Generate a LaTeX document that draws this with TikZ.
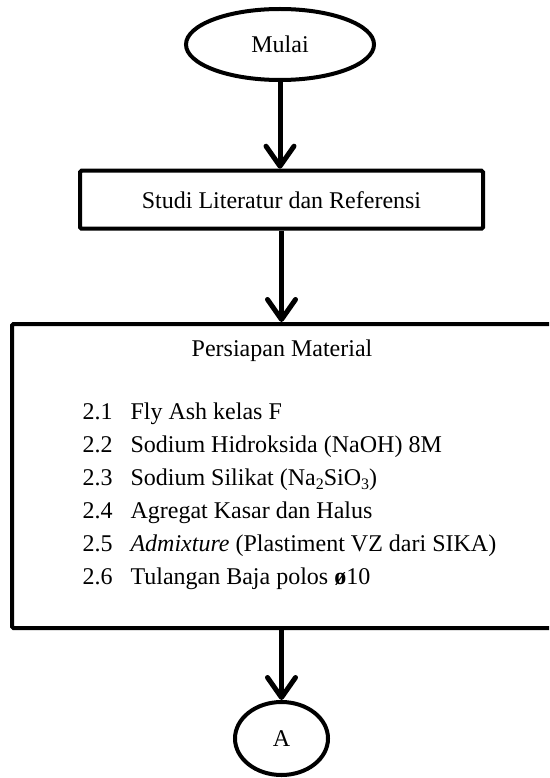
\documentclass[tikz,border=0pt]{standalone}
\usepackage{fontspec}
\setmainfont{Liberation Serif}
\usetikzlibrary{arrows.meta,shapes.geometric}
\newcommand{\lowsub}[1]{\raisebox{-4.5pt}{\fontsize{16}{16}\selectfont #1}}
\begin{document}
\begin{tikzpicture}[x=1pt,y=-1pt,
  box/.style={draw, line width=4pt, rounded corners=1.5pt, inner sep=0pt},
  oval/.style={ellipse, draw, line width=4pt, inner sep=0pt},
  flow/.style={line width=5pt, -{Straight Barb[length=20pt,width=28pt,round]}},
  txt/.style={font=\fontsize{24}{33}\selectfont}]
\useasboundingbox (0,0) rectangle (549,778);
\clip (0,0) rectangle (549,778);
% shapes
\node[oval, minimum width=188pt, minimum height=71pt, txt] (mulai) at (280,44.5) {Mulai};
\node[box, minimum width=403pt, minimum height=58pt, txt] (studi) at (281.5,199.7) {Studi Literatur dan Referensi};
\node[box, minimum width=580pt, minimum height=304pt, anchor=north west] (mat) at (10,322) {};
\node[txt, anchor=base] (title) at (282,356.8) {Persiapan Material};
\node[txt, anchor=base west] (i1) at (79,419) {\makebox[48pt][l]{2.1}Fly Ash kelas F};
\node[txt, anchor=base west] (i2) at (79,452.1) {\makebox[48pt][l]{2.2}Sodium Hidroksida (NaOH) 8M};
\node[txt, anchor=base west] (i3) at (79,485.2) {\makebox[48pt][l]{2.3}Sodium Silikat (Na\lowsub{2}SiO\lowsub{3})};
\node[txt, anchor=base west] (i4) at (79,518.3) {\makebox[48pt][l]{2.4}Agregat Kasar dan Halus};
\node[txt, anchor=base west] (i5) at (79,551.4) {\makebox[48pt][l]{2.5}\textit{Admixture} (Plastiment VZ dari SIKA)};
\node[txt, anchor=base west] (i6) at (79,584.5) {\makebox[48pt][l]{2.6}Tulangan Baja polos \textbf{ø}10};
\node[oval, minimum width=93pt, minimum height=73pt, txt] (A) at (281.5,738.5) {A};
% connectors
\draw[flow] (mulai.south) -- (mulai.south |- studi.north);
\draw[flow] (studi.south) -- (studi.south |- mat.north);
\draw[flow] (A.north |- mat.south) -- (A.north);
\end{tikzpicture}
\end{document}
